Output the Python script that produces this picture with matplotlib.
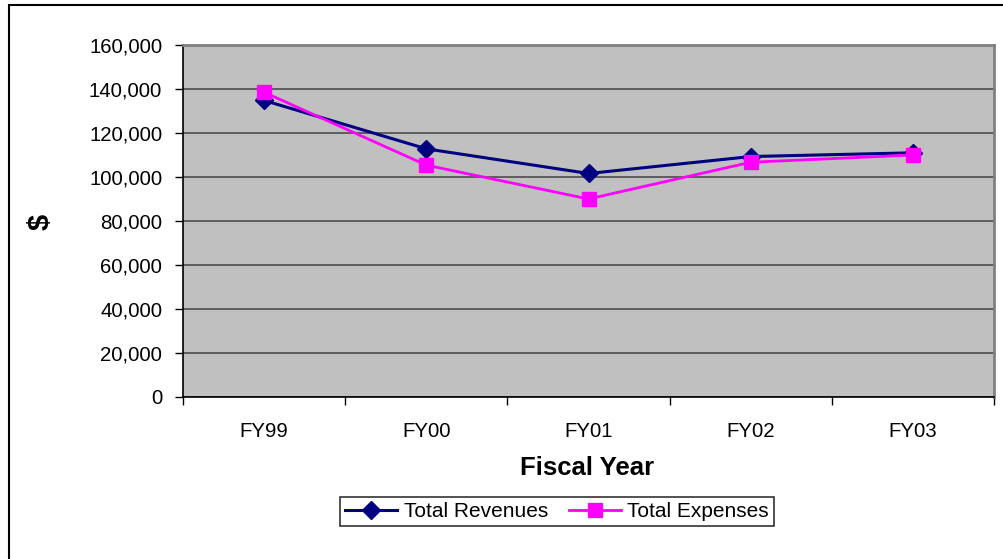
import matplotlib
matplotlib.use("Agg")
import matplotlib.pyplot as plt
from matplotlib.patches import Rectangle
import numpy as np

plt.rcParams['font.family'] = ['Liberation Sans', 'DejaVu Sans']

categories = ["FY99", "FY00", "FY01", "FY02", "FY03"]
revenues = [134800, 112800, 101600, 109300, 111000]
expenses = [138500, 105400, 90000, 106700, 110000]
yticks = [0, 20000, 40000, 60000, 80000, 100000, 120000, 140000, 160000]

W, H = 1004, 559
fig = plt.figure(figsize=(W / 100, H / 100), dpi=100)
fig.patch.set_facecolor("white")

# outer chart border
fig.patches.append(Rectangle((9 / W, -0.02), 1.05, 1 - 5 / H + 0.02, transform=fig.transFigure,
                             fill=False, edgecolor="black", lw=1.5))

left, right, top, bottom = 183, 994, 45, 397
ax = fig.add_axes([left / W, 1 - bottom / H, (right - left) / W, (bottom - top) / H])
ax.set_facecolor("#C0C0C0")

x = np.arange(len(categories)) + 0.5
ax.plot(x, revenues, color="#000080", lw=2.2, marker="D", markersize=9,
        markeredgecolor="#000080", markerfacecolor="#000080", label="Total Revenues", zorder=3)
ax.plot(x, expenses, color="#FF00FF", lw=2.0, marker="s", markersize=9.5,
        markeredgecolor="#FF00FF", markerfacecolor="#FF00FF", label="Total Expenses", zorder=4)

ax.set_xlim(0, len(categories))
ax.set_ylim(0, 160000)
ax.set_yticks(yticks)
ax.set_yticklabels([f"{v:,}" for v in yticks], fontsize=14.7)
ax.yaxis.grid(True, color="#555555", lw=1.3)
ax.set_axisbelow(True)

ax.set_xticks(np.arange(len(categories) + 1))
ax.set_xticklabels([])
ax.set_xticks(x, minor=True)
ax.set_xticklabels(categories, minor=True, fontsize=14.7)
ax.tick_params(axis="x", which="minor", length=0, pad=18)
ax.tick_params(axis="x", which="major", direction="out", length=6, width=1, color="black")
ax.tick_params(axis="y", direction="out", length=6, width=1, color="black", pad=9)

for s in ["left", "bottom"]:
    ax.spines[s].set_color("black")
    ax.spines[s].set_linewidth(1.2)
for s in ["top", "right"]:
    ax.spines[s].set_color("#808080")
    ax.spines[s].set_linewidth(2)

fig.text(41 / W, 1 - 222 / H, "$", rotation=90, fontsize=21, fontweight="bold",
         ha="center", va="center")
fig.text(587 / W, 1 - 468 / H, "Fiscal Year", fontsize=18.5, fontweight="bold",
         ha="center", va="center")

leg = fig.legend(loc="center", bbox_to_anchor=(557 / W, 1 - 511.5 / H), ncol=2,
                 fontsize=15, frameon=True, fancybox=False, edgecolor="black",
                 handlelength=2.5, handletextpad=0.3, columnspacing=1.0,
                 borderpad=0.25, borderaxespad=0)
leg.get_frame().set_linewidth(1.2)

fig.savefig("out.png", dpi=100)
